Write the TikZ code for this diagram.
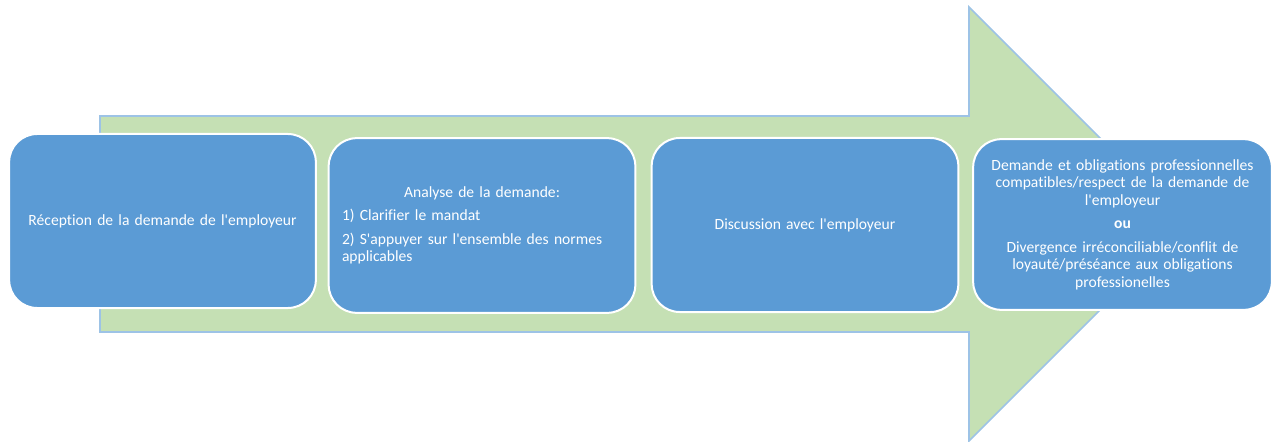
\documentclass[tikz,border=0pt]{standalone}
\usepackage{fontspec}
\newfontfamily\stepfont{Carlito}[Ligatures=NoCommon]
\definecolor{arrowgreen}{HTML}{C5E0B4}
\definecolor{arrowedge}{HTML}{9DC3E6}
\definecolor{boxblue}{HTML}{5B9BD5}
\begin{document}
\hyphenpenalty=10000 \exhyphenpenalty=10000
\begin{tikzpicture}[x=0.75pt, y=-0.75pt,
  stepbox/.style={draw=white, line width=1.5pt, fill=boxblue, rounded corners=21pt,
    minimum width=230pt, minimum height=130.5pt, inner sep=0pt, text=white,
    text width=210pt, align=center, font=\stepfont\fontsize{11.7}{13.1}\selectfont}]
\useasboundingbox (0,0) rectangle (1273,442);
% big arrow behind the steps
\draw[fill=arrowgreen, draw=arrowedge, line width=1.2pt]
  (100,116) -- (969,116) -- (969,7) -- (1186,224) -- (969,441) -- (969,332) -- (100,332) -- cycle;
% steps
\node[stepbox] (reception) at (162.5,221) {Réception de la demande de l'employeur};
\node[stepbox, minimum height=131pt] (analyse) at (482,225.5)
  {Analyse de la demande:\\[4.6pt]
   1) Clarifier le mandat\hfill\null\\[4.6pt]
   2) S'appuyer sur l'ensemble des normes\hfill\null\\
   applicables\hfill\null};
\node[stepbox] (discussion) at (805,225) {Discussion avec l'employeur};
\node[stepbox, minimum width=224pt, minimum height=128pt] (issue) at (1122.5,224.5)
  {Demande et obligations professionnelles\\
   compatibles/respect de la demande de\\
   l'employeur\\[4.6pt]
   \textbf{ou}\\[4.6pt]
   Divergence irréconciliable/conflit de\\
   loyauté/préséance aux obligations\\
   professionelles};
\end{tikzpicture}
\end{document}
